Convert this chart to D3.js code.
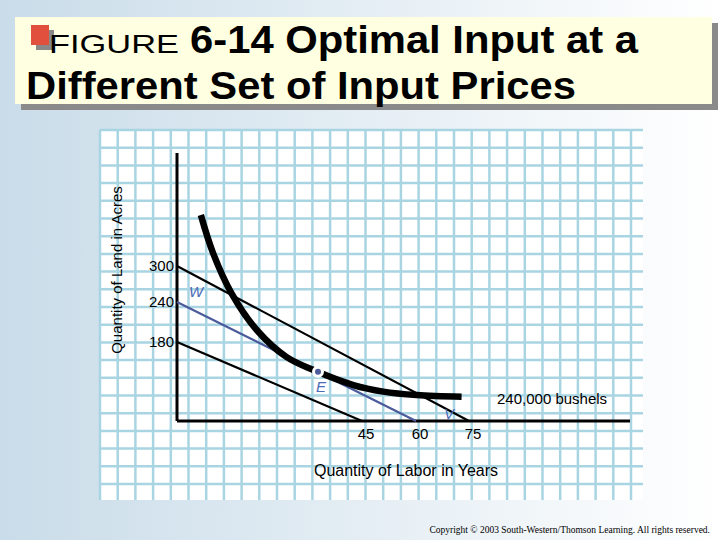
<!DOCTYPE html>
<html><head><meta charset="utf-8">
<script src="https://cdn.jsdelivr.net/npm/d3@7"></script>
<style>body{margin:0}svg{display:block}</style>
</head><body>
<script>
var W = 720, H = 540;

// isoquant for 240,000 bushels (labor years, land acres)
var isoquant = [[5.8,385],[8.8,321],[13.3,254],[19.4,198],[26.6,146],[33.2,116],[42.9,82],[50.9,67],[60.2,59],[72.9,55]];
// isocost lines: [land intercept, labor intercept]
var isocosts = [
  {land: 300, labor: 75, color: '#000'},
  {land: 240, labor: 60, color: '#4b5b9b'},
  {land: 180, labor: 45, color: '#000'}
];
var optimum = [34.3, 112];
var yTicks = [180, 240, 300];
var xTicks = [45, 60, 75];

var svg = d3.select('body').append('svg').attr('width', W).attr('height', H);
var defs = svg.append('defs');
var grad = defs.append('linearGradient').attr('id', 'bg');
grad.append('stop').attr('offset', '0%').attr('stop-color', '#c9dce9');
grad.append('stop').attr('offset', '100%').attr('stop-color', '#ffffff');
svg.append('rect').attr('width', W).attr('height', H).attr('fill', 'url(#bg)');

// grid panel
var gx0 = 100, gy0 = 130, gx1 = 643, gy1 = 500;
svg.append('rect').attr('x', gx0).attr('y', gy0).attr('width', gx1 - gx0).attr('height', gy1 - gy0).attr('fill', '#fff');
var grid = svg.append('g').attr('stroke', '#a9d5e2').attr('stroke-width', 2.5);
d3.range(gx0, gx1 + 1, 17.7).forEach(function(x) {
  grid.append('line').attr('x1', x).attr('x2', x).attr('y1', gy0).attr('y2', gy1);
});
d3.range(gy0, gy1 + 1, 17.7).forEach(function(y) {
  grid.append('line').attr('x1', gx0).attr('x2', gx1).attr('y1', y).attr('y2', y);
});

// title box
var tf = 'Liberation Sans Narrow, Arial Narrow, Liberation Sans, sans-serif';
svg.append('rect').attr('x', 21).attr('y', 23).attr('width', 697).attr('height', 87).attr('fill', '#8a8a8a');
svg.append('rect').attr('x', 15).attr('y', 17).attr('width', 697).attr('height', 87).attr('fill', '#ffffe1');
svg.append('rect').attr('x', 36).attr('y', 30).attr('width', 18).attr('height', 20).attr('fill', '#888');
svg.append('rect').attr('x', 31).attr('y', 25).attr('width', 18).attr('height', 20).attr('fill', '#e0503c');
svg.append('text').attr('x', 49).attr('y', 53).attr('font-family', tf).attr('font-size', 25)
  .attr('textLength', 130).attr('lengthAdjust', 'spacingAndGlyphs').text('FIGURE');
svg.append('text').attr('x', 190).attr('y', 53).attr('font-family', tf).attr('font-size', 38).attr('font-weight', 'bold')
  .attr('textLength', 448).attr('lengthAdjust', 'spacingAndGlyphs').text('6-14 Optimal Input at a');
svg.append('text').attr('x', 26).attr('y', 99).attr('font-family', tf)
  .attr('font-size', 38).attr('font-weight', 'bold').attr('textLength', 550).attr('lengthAdjust', 'spacingAndGlyphs')
  .text('Different Set of Input Prices');

// scales (the printed axis is not evenly spaced, so map tick values piecewise)
var x = d3.scaleLinear().domain([0, 45, 60, 75]).range([177, 362, 416, 469]);
var y = d3.scaleLinear().domain([0, 180, 240, 300]).range([421, 342, 302, 266]);

var g = svg.append('g').attr('font-family', 'Liberation Sans, Arial, sans-serif');
// axes
g.append('line').attr('x1', x(0)).attr('x2', 630).attr('y1', y(0)).attr('y2', y(0)).attr('stroke', '#000').attr('stroke-width', 3);
g.append('line').attr('x1', x(0)).attr('x2', x(0)).attr('y1', 153).attr('y2', y(0)).attr('stroke', '#000').attr('stroke-width', 3);

yTicks.forEach(function(v) {
  g.append('text').attr('x', x(0) - 3).attr('y', y(v) + 5).attr('text-anchor', 'end').attr('font-size', 15).text(v);
});
xTicks.forEach(function(v) {
  g.append('text').attr('x', x(v) + 4).attr('y', 439).attr('text-anchor', 'middle').attr('font-size', 15).text(v);
});

// isocost lines
isocosts.forEach(function(c) {
  g.append('line').attr('x1', x(0)).attr('y1', y(c.land)).attr('x2', x(c.labor)).attr('y2', y(0))
    .attr('stroke', c.color).attr('stroke-width', 2.2);
});

// isoquant
g.append('path').datum(isoquant)
  .attr('d', d3.line().x(function(d) { return x(d[0]); }).y(function(d) { return y(d[1]); }).curve(d3.curveCatmullRom))
  .attr('fill', 'none').attr('stroke', '#000').attr('stroke-width', 6.5);

g.append('circle').attr('cx', x(optimum[0])).attr('cy', y(optimum[1])).attr('r', 4.5)
  .attr('fill', '#4b5b9b').attr('stroke', '#fff').attr('stroke-width', 3);

// labels
g.append('text').attr('x', 189).attr('y', 297).attr('fill', '#4b6bb8').attr('font-style', 'italic').attr('font-size', 15).text('W');
g.append('text').attr('x', 316).attr('y', 392).attr('fill', '#4b6bb8').attr('font-style', 'italic').attr('font-size', 15).text('E');
g.append('text').attr('x', 444).attr('y', 419).attr('fill', '#4b6bb8').attr('font-style', 'italic').attr('font-size', 15).text('V');
g.append('text').attr('x', 497).attr('y', 404).attr('font-size', 15).text('240,000 bushels');

g.append('text').attr('x', 406).attr('y', 476).attr('text-anchor', 'middle').attr('font-size', 16).text('Quantity of Labor in Years');
g.append('text').attr('transform', 'translate(122,' + 270 + ') rotate(-90)').attr('text-anchor', 'middle')
  .attr('font-size', 15).text('Quantity of Land in Acres');

svg.append('text').attr('x', 710).attr('y', 533).attr('text-anchor', 'end').attr('font-family', 'Liberation Serif, serif')
  .attr('font-size', 9.5).text('Copyright © 2003 South-Western/Thomson Learning. All rights reserved.');
</script>
</body></html>
